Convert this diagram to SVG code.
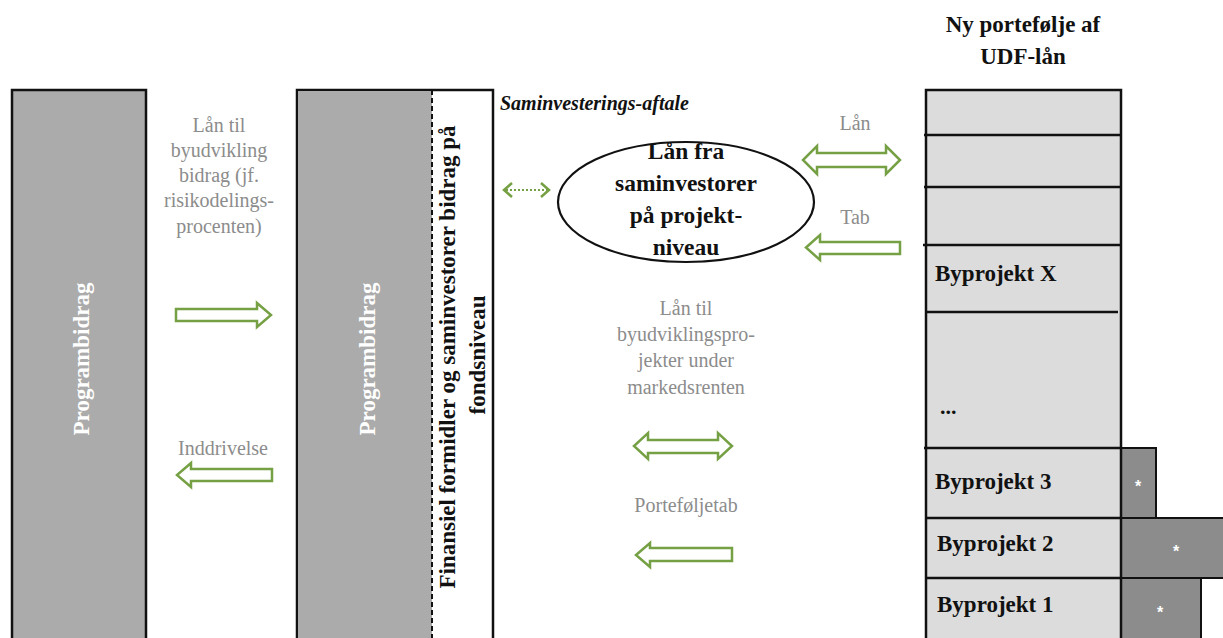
<svg xmlns="http://www.w3.org/2000/svg" width="1223" height="638" viewBox="0 0 1223 638">
<style>
.lbl{font-family:"Liberation Serif",serif;font-size:20px;fill:#8c8c8c;text-anchor:middle}
.bold{font-family:"Liberation Serif",serif;font-weight:bold;fill:#111}
.white{font-family:"Liberation Serif",serif;font-weight:bold;fill:#fff;font-size:23px;text-anchor:middle}
.arr{fill:#fff;stroke:#76a044;stroke-width:2.5;stroke-linejoin:miter}
.cell{fill:#dcdcdc;stroke:#111;stroke-width:2.5}
.dark{fill:#8c8c8c;stroke:#111;stroke-width:2}
</style>
<rect width="1223" height="638" fill="#fff"/>
<g id="programbidrag-1">
<rect x="12" y="90" width="134" height="560" fill="#ababab" stroke="#111" stroke-width="2.5"/>
<text class="white" transform="translate(89,359) rotate(-90)">Programbidrag</text>
</g>
<g id="fond">
<rect x="297" y="90" width="196" height="560" fill="#fff" stroke="#111" stroke-width="2.5"/>
<rect x="298" y="91" width="134" height="558" fill="#ababab"/>
<line x1="432" y1="90" x2="432" y2="640" stroke="#111" stroke-width="2" stroke-dasharray="5,3"/>
<text class="white" transform="translate(375,359) rotate(-90)">Programbidrag</text>
<text class="bold" font-size="23" text-anchor="middle" transform="translate(455,357) rotate(-90)">Finansiel formidler og saminvestorer bidrag på</text>
<text class="bold" font-size="23" text-anchor="middle" transform="translate(485,355) rotate(-90)">fondsniveau</text>
</g>
<g id="saminvestering">
<text class="bold" font-size="20" font-style="italic" x="500" y="110">Saminvesterings-aftale</text>
<ellipse cx="686" cy="202" rx="128" ry="60" fill="#fff" stroke="#111" stroke-width="2.2"/>
<text class="bold" font-size="23.5" text-anchor="middle" x="686" y="159">Lån fra</text>
<text class="bold" font-size="23.5" text-anchor="middle" x="686" y="191">saminvestorer</text>
<text class="bold" font-size="23.5" text-anchor="middle" x="686" y="223">på projekt-</text>
<text class="bold" font-size="23.5" text-anchor="middle" x="686" y="255">niveau</text>
</g>
<g id="portefolje">
<text class="bold" font-size="23" text-anchor="middle" x="1023" y="32">Ny portefølje af</text>
<text class="bold" font-size="23" text-anchor="middle" x="1023" y="64">UDF-lån</text>
<rect class="dark" x="1121" y="448" width="35" height="70"/>
<rect class="dark" x="1121" y="518" width="110" height="60"/>
<rect class="dark" x="1121" y="578" width="80" height="70"/>
<rect class="cell" x="926" y="90" width="195" height="560"/>
<g stroke="#111" stroke-width="2.5">
<line x1="924" y1="135" x2="1121" y2="135"/>
<line x1="924" y1="187" x2="1121" y2="187"/>
<line x1="923" y1="245" x2="1121" y2="245"/>
<line x1="926" y1="312" x2="1118" y2="312"/>
<line x1="924" y1="448" x2="1121" y2="448"/>
<line x1="926" y1="518" x2="1121" y2="518"/>
<line x1="926" y1="578" x2="1121" y2="578"/>
</g>
<text class="bold" font-size="23" x="935" y="281">Byprojekt X</text>
<text class="bold" font-size="22" x="940" y="414">...</text>
<text class="bold" font-size="23" x="935" y="489">Byprojekt 3</text>
<text class="bold" font-size="23" x="937" y="551">Byprojekt 2</text>
<text class="bold" font-size="23" x="937" y="612">Byprojekt 1</text>
<g font-family="Liberation Sans,sans-serif" font-size="16" font-weight="bold" fill="#fff" text-anchor="middle">
<text x="1138" y="492">*</text>
<text x="1176" y="557">*</text>
<text x="1160" y="618">*</text>
</g>
</g>
<g id="connectors">
<polygon class="arr" points="176,309 257,309 257,303 271,315 257,327 257,321 176,321"/>
<polygon class="arr" points="272,469 191,469 191,463 177,475 191,487 191,481 272,481"/>
<polygon class="arr" points="817,153 886,153 886,146 900,160 886,174 886,167 817,167 817,174 803,160 817,146"/>
<polygon class="arr" points="900,242 820,242 820,235 806,247.5 820,260 820,254 900,254"/>
<polygon class="arr" points="648,440 718,440 718,433 732,446 718,459 718,453 648,453 648,459 634,446 648,433"/>
<polygon class="arr" points="732,548 650,548 650,543 636,555 650,567 650,561 732,561"/>
<line x1="506" y1="190" x2="547" y2="190" stroke="#76a044" stroke-width="2" stroke-dasharray="2,2"/>
<polyline points="512,183 504,190 512,197" fill="none" stroke="#76a044" stroke-width="2.5"/>
<polyline points="541,183 549,190 541,197" fill="none" stroke="#76a044" stroke-width="2.5"/>
</g>
<g id="labels">
<text class="lbl" x="219" y="132">Lån til</text>
<text class="lbl" x="219" y="157">byudvikling</text>
<text class="lbl" x="219" y="182">bidrag (jf.</text>
<text class="lbl" x="219" y="207">risikodelings-</text>
<text class="lbl" x="219" y="233">procenten)</text>
<text class="lbl" x="223" y="455">Inddrivelse</text>
<text class="lbl" x="855" y="130">Lån</text>
<text class="lbl" x="855" y="224">Tab</text>
<text class="lbl" x="686" y="315">Lån til</text>
<text class="lbl" x="686" y="341">byudviklingspro-</text>
<text class="lbl" x="686" y="367">jekter under</text>
<text class="lbl" x="686" y="394">markedsrenten</text>
<text class="lbl" x="686" y="512">Porteføljetab</text>
</g>
</svg>
